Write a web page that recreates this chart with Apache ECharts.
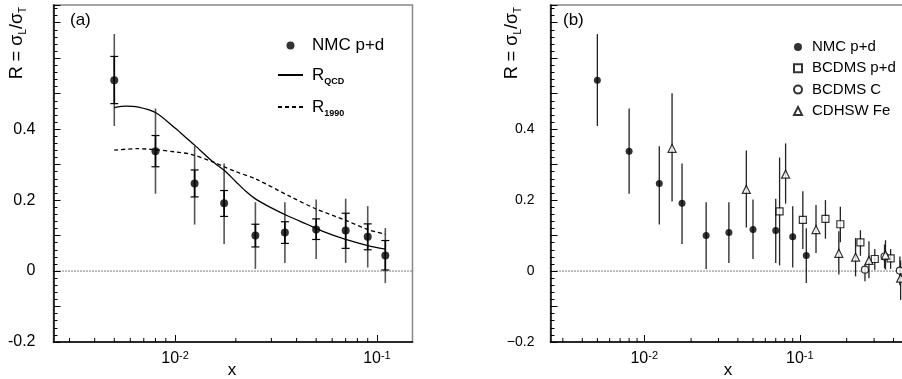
<!DOCTYPE html>
<html><head><meta charset="utf-8">
<script src="https://cdn.jsdelivr.net/npm/echarts@6/dist/echarts.min.js"></script>
<style>html,body{margin:0;padding:0;background:#fff}#c{width:902px;height:379px}</style>
</head><body><div id="c"></div>
<script>
// ---------------- data ----------------
const nmcX      = [0.005, 0.008, 0.0125, 0.0175, 0.025, 0.035, 0.05, 0.07, 0.09, 0.11];
const nmcR      = [0.538, 0.338, 0.247, 0.191, 0.100, 0.109, 0.117, 0.114, 0.097, 0.044];
const nmcTotLo  = [0.409, 0.218, 0.131, 0.076, 0.006, 0.023, 0.034, 0.023, 0.010, -0.034];
const nmcTotHi  = [0.668, 0.458, 0.352, 0.303, 0.194, 0.194, 0.202, 0.204, 0.183, 0.121];
const nmcStatLo = [0.472, 0.294, 0.209, 0.154, 0.068, 0.078, 0.089, 0.064, 0.060, 0.003];
const nmcStatHi = [0.605, 0.382, 0.285, 0.227, 0.132, 0.139, 0.147, 0.163, 0.133, 0.086];

const qcdX = [0.005, 0.0057, 0.0065, 0.008, 0.01, 0.0118, 0.0125, 0.0154, 0.0175, 0.02, 0.0225, 0.0252, 0.03, 0.0369, 0.045, 0.054, 0.07, 0.09, 0.11];
const qcdR = [0.461, 0.465, 0.463, 0.447, 0.403, 0.367, 0.355, 0.308, 0.284, 0.252, 0.224, 0.202, 0.178, 0.153, 0.132, 0.112, 0.089, 0.072, 0.062];

const r90X = [0.005, 0.0065, 0.008, 0.01, 0.012, 0.0154, 0.0175, 0.02, 0.025, 0.0369, 0.05, 0.07, 0.09, 0.11];
const r90R = [0.341, 0.345, 0.342, 0.336, 0.329, 0.308, 0.294, 0.280, 0.260, 0.211, 0.175, 0.143, 0.117, 0.104];

const bcdmsPdX  = [0.0741, 0.1045, 0.146, 0.182, 0.245, 0.303, 0.383];
const bcdmsPdR  = [0.168, 0.144, 0.147, 0.132, 0.081, 0.034, 0.036];
const bcdmsPdLo = [0.016, 0.062, 0.091, 0.081, 0.043, 0.004, 0.006];
const bcdmsPdHi = [0.320, 0.225, 0.200, 0.181, 0.115, 0.062, 0.062];

const bcdmsCX  = [0.262, 0.35, 0.439];
const bcdmsCR  = [0.004, 0.041, 0.001];
const bcdmsCLo = [-0.029, 0.008, -0.040];
const bcdmsCHi = [0.018, 0.075, 0.041];

const cdhswX  = [0.0151, 0.0453, 0.081, 0.127, 0.178, 0.228, 0.278, 0.355, 0.444];
const cdhswR  = [0.346, 0.230, 0.273, 0.117, 0.050, 0.039, 0.030, 0.045, -0.020];
const cdhswLo = [0.196, 0.123, 0.190, 0.051, -0.010, -0.015, -0.020, 0.004, -0.081];
const cdhswHi = [0.501, 0.340, 0.360, 0.186, 0.112, 0.093, 0.084, 0.087, 0.030];

// tick labels
const xTickValues = [0.01, 0.1];
const xTickExp    = ['-2', '-1'];
const yTickValues = [-0.2, 0, 0.2, 0.4];
const yTickTextsA = ['-0.2', '0', '0.2', '0.4'];
const yTickTextsB = ['\u22120.2', '0', '0.2', '0.4'];
const xMinorA = [0.003,0.004,0.005,0.006,0.007,0.008,0.009,0.02,0.03,0.04,0.05,0.06,0.07,0.08,0.09];
const xMinorB = [0.003,0.004,0.005,0.006,0.007,0.008,0.009,0.02,0.03,0.04,0.05,0.06,0.07,0.08,0.09,0.2,0.3,0.4,0.5,0.6,0.7,0.8,0.9];

// ---------------- chart ----------------
const FF = '"Liberation Sans", Arial, Helvetica, sans-serif';
const chart = echarts.init(document.getElementById('c'), null, {renderer:'canvas'});

function xFmt(v){
  for (let i=0;i<xTickValues.length;i++){
    if (Math.abs(Math.log10(v)-Math.log10(xTickValues[i]))<1e-6) return '{b|10}{s|'+xTickExp[i]+'}';
  }
  return '';
}
function yFmt(texts){
  return function(v){
    for (let i=0;i<yTickValues.length;i++){ if (Math.abs(v-yTickValues[i])<1e-6) return texts[i]; }
    return '';
  };
}
const xRich = {b:{fontSize:16, lineHeight:18, fontFamily:FF, color:'#000'}, s:{fontSize:11, lineHeight:9, verticalAlign:'top', fontFamily:FF, color:'#000'}};

function mkX(grid, max){
  return {type:'log', gridIndex:grid, logBase:10, min:0.0025, max:max,
    axisLine:{show:true, onZero:false, lineStyle:{color:'#000', width:1.5}},
    axisTick:{show:true, inside:true, length:7, lineStyle:{color:'#000', width:1}},
    axisLabel:{show:true, showMinLabel:false, showMaxLabel:false, margin:8, formatter:xFmt, rich:xRich},
    splitLine:{show:false}, minorTick:{show:false}, minorSplitLine:{show:false}};
}
function mkY(grid, texts, margin, fs){
  return {type:'value', gridIndex:grid, min:-0.2, max:0.75, interval:0.1,
    axisLine:{show:true, onZero:false, lineStyle:{color:'#000', width:1.5}},
    axisTick:{show:true, inside:true, length:7, lineStyle:{color:'#000', width:1}},
    minorTick:{show:true, splitNumber:5, length:4, lineStyle:{color:'#000', width:1}},
    axisLabel:{show:true, margin:margin, formatter:yFmt(texts), fontSize:fs, fontFamily:FF, color:'#000'},
    splitLine:{show:false}, minorSplitLine:{show:false}};
}

function errA(params, api){
  const x = api.value(0);
  const a = api.coord([x, api.value(1)]), b = api.coord([x, api.value(2)]);
  const c = api.coord([x, api.value(3)]), d = api.coord([x, api.value(4)]);
  const cw = 4;
  return {type:'group', children:[
    {type:'line', shape:{x1:a[0],y1:a[1],x2:b[0],y2:b[1]}, style:{stroke:'#555', lineWidth:1.6}},
    {type:'line', shape:{x1:c[0],y1:c[1],x2:d[0],y2:d[1]}, style:{stroke:'#000', lineWidth:1.6}},
    {type:'line', shape:{x1:c[0]-cw,y1:c[1],x2:c[0]+cw,y2:c[1]}, style:{stroke:'#000', lineWidth:1.2}},
    {type:'line', shape:{x1:d[0]-cw,y1:d[1],x2:d[0]+cw,y2:d[1]}, style:{stroke:'#000', lineWidth:1.2}}
  ]};
}
function errB(params, api){
  const x = api.value(0);
  const a = api.coord([x, api.value(1)]), b = api.coord([x, api.value(2)]);
  return {type:'line', shape:{x1:a[0],y1:a[1],x2:b[0],y2:b[1]}, style:{stroke:'#222', lineWidth:1.3}};
}
function minorTicks(params, api){
  const p = api.coord([api.value(0), -0.2]);
  return {type:'line', shape:{x1:p[0],y1:p[1],x2:p[0],y2:p[1]-4}, style:{stroke:'#000', lineWidth:1}};
}

const hollow = {color:'#fff', borderColor:'#000', borderWidth:1.2};
const noSym = {color:'transparent', borderColor:'transparent', borderWidth:0, opacity:0};

const option = {
  animation:false,
  backgroundColor:'#fff',
  grid:[
    {left:53.5, top:5, width:359, height:337, show:true, borderColor:'#888', borderWidth:1.5, backgroundColor:'transparent', outerBoundsMode:'none', containLabel:false},
    {left:550.5, top:5, width:405, height:337, show:true, borderColor:'#888', borderWidth:1.5, backgroundColor:'transparent', outerBoundsMode:'none', containLabel:false}
  ],
  xAxis:[ mkX(0, 0.15), mkX(1, 1) ],
  yAxis:[ mkY(0, yTickTextsA, 18, 16), mkY(1, yTickTextsB, 16, 14) ],
  legend:[
    {orient:'vertical', left:272, top:32, itemWidth:25, itemHeight:8, itemGap:12.5, selectedMode:false,
     data:[{name:'NMC p+d'}, {name:'R_QCD', itemStyle:noSym}, {name:'R_1990', itemStyle:noSym}],
     formatter:function(n){ if(n==='R_QCD') return '{b|R}{s|QCD}'; if(n==='R_1990') return '{b|R}{s|1990}'; return '{b|'+n+'}'; },
     textStyle:{color:'#000', fontFamily:FF, fontSize:17, padding:[0,0,0,4], rich:{
       b:{fontSize:17, lineHeight:22, fontFamily:FF, color:'#000'},
       s:{fontSize:9, lineHeight:4, verticalAlign:'bottom', fontWeight:'bold', fontFamily:FF, color:'#000'}}}},
    {orient:'vertical', left:788, top:34, itemWidth:8, itemHeight:8, itemGap:5.3, selectedMode:false,
     data:['NMC p+d','BCDMS p+d','BCDMS C','CDHSW Fe'],
     textStyle:{color:'#000', fontFamily:FF, fontSize:15, lineHeight:16, padding:[0,0,0,5]}}
  ],
  graphic:[
    {type:'text', x:70, y:20, style:{text:'(a)', fontSize:17, fontFamily:FF, fill:'#000', align:'left', verticalAlign:'middle'}},
    {type:'text', x:563, y:20, style:{text:'(b)', fontSize:17, fontFamily:FF, fill:'#000', align:'left', verticalAlign:'middle'}},
    {type:'text', x:17, y:43, rotation:Math.PI/2, style:{text:'{b|R = σ}{s|L}{b|/σ}{s|T}', align:'center', verticalAlign:'middle', fontFamily:FF, fill:'#000',
      rich:{b:{fontSize:18, lineHeight:22, fontFamily:FF, color:'#000'}, s:{fontSize:10, lineHeight:6, verticalAlign:'bottom', fontFamily:FF, color:'#000'}}}},
    {type:'text', x:512, y:43, rotation:Math.PI/2, style:{text:'{b|R = σ}{s|L}{b|/σ}{s|T}', align:'center', verticalAlign:'middle', fontFamily:FF, fill:'#000',
      rich:{b:{fontSize:18, lineHeight:22, fontFamily:FF, color:'#000'}, s:{fontSize:10, lineHeight:6, verticalAlign:'bottom', fontFamily:FF, color:'#000'}}}},
    {type:'text', x:232, y:370, style:{text:'x', fontSize:17, fontFamily:FF, fill:'#000', align:'center', verticalAlign:'middle'}},
    {type:'text', x:728, y:370, style:{text:'x', fontSize:17, fontFamily:FF, fill:'#000', align:'center', verticalAlign:'middle'}}
  ],
  series:[
    // ---- panel (a) ----
    {type:'line', name:'zeroA', xAxisIndex:0, yAxisIndex:0, data:[[0.0025,0],[0.15,0]], symbol:'none', silent:true,
     lineStyle:{color:'#000', width:1, type:[1,2]}, z:1},
    {type:'custom', name:'minorA', xAxisIndex:0, yAxisIndex:0, renderItem:minorTicks, clip:false, silent:true,
     data:xMinorA.map(v=>[v,-0.2]), encode:{x:0,y:1}, z:1},
    {type:'custom', name:'errA', xAxisIndex:0, yAxisIndex:0, renderItem:errA, clip:true, silent:true,
     data:nmcX.map((x,i)=>[x, nmcTotLo[i], nmcTotHi[i], nmcStatLo[i], nmcStatHi[i]]), encode:{x:0,y:[1,2]}, z:2},
    {type:'line', name:'R_QCD', xAxisIndex:0, yAxisIndex:0, data:qcdX.map((x,i)=>[x,qcdR[i]]), smooth:0.3, symbol:'none',
     lineStyle:{color:'#000', width:1.3, type:'solid'}, itemStyle:{color:'#000'}, z:3},
    {type:'line', name:'R_1990', xAxisIndex:0, yAxisIndex:0, data:r90X.map((x,i)=>[x,r90R[i]]), smooth:0.3, symbol:'none',
     lineStyle:{color:'#000', width:1.3, type:[4,3]}, itemStyle:{color:'#000'}, z:3},
    {type:'scatter', name:'NMC p+d', xAxisIndex:0, yAxisIndex:0, data:nmcX.map((x,i)=>[x,nmcR[i]]), symbol:'circle', symbolSize:8,
     itemStyle:{color:'#000'}, z:4},
    // ---- panel (b) ----
    {type:'line', name:'zeroB', xAxisIndex:1, yAxisIndex:1, data:[[0.0025,0],[1,0]], symbol:'none', silent:true,
     lineStyle:{color:'#000', width:1, type:[1,2]}, z:1},
    {type:'custom', name:'minorB', xAxisIndex:1, yAxisIndex:1, renderItem:minorTicks, clip:false, silent:true,
     data:xMinorB.map(v=>[v,-0.2]), encode:{x:0,y:1}, z:1},
    {type:'custom', name:'errNMC', xAxisIndex:1, yAxisIndex:1, renderItem:errB, clip:true, silent:true,
     data:nmcX.map((x,i)=>[x, nmcTotLo[i], nmcTotHi[i]]), encode:{x:0,y:[1,2]}, z:2},
    {type:'custom', name:'errBPd', xAxisIndex:1, yAxisIndex:1, renderItem:errB, clip:true, silent:true,
     data:bcdmsPdX.map((x,i)=>[x, bcdmsPdLo[i], bcdmsPdHi[i]]), encode:{x:0,y:[1,2]}, z:2},
    {type:'custom', name:'errBC', xAxisIndex:1, yAxisIndex:1, renderItem:errB, clip:true, silent:true,
     data:bcdmsCX.map((x,i)=>[x, bcdmsCLo[i], bcdmsCHi[i]]), encode:{x:0,y:[1,2]}, z:2},
    {type:'custom', name:'errCD', xAxisIndex:1, yAxisIndex:1, renderItem:errB, clip:true, silent:true,
     data:cdhswX.map((x,i)=>[x, cdhswLo[i], cdhswHi[i]]), encode:{x:0,y:[1,2]}, z:2},
    {type:'scatter', name:'NMC p+d', xAxisIndex:1, yAxisIndex:1, data:nmcX.map((x,i)=>[x,nmcR[i]]), symbol:'circle', symbolSize:7,
     itemStyle:{color:'#000'}, z:4},
    {type:'scatter', name:'BCDMS p+d', xAxisIndex:1, yAxisIndex:1, data:bcdmsPdX.map((x,i)=>[x,bcdmsPdR[i]]), symbol:'rect', symbolSize:7,
     itemStyle:hollow, z:4},
    {type:'scatter', name:'BCDMS C', xAxisIndex:1, yAxisIndex:1, data:bcdmsCX.map((x,i)=>[x,bcdmsCR[i]]), symbol:'circle', symbolSize:7,
     itemStyle:hollow, z:4},
    {type:'scatter', name:'CDHSW Fe', xAxisIndex:1, yAxisIndex:1, data:cdhswX.map((x,i)=>[x,cdhswR[i]]), symbol:'triangle', symbolSize:8,
     itemStyle:hollow, z:5}
  ]
};
chart.setOption(option);
</script>
</body></html>
